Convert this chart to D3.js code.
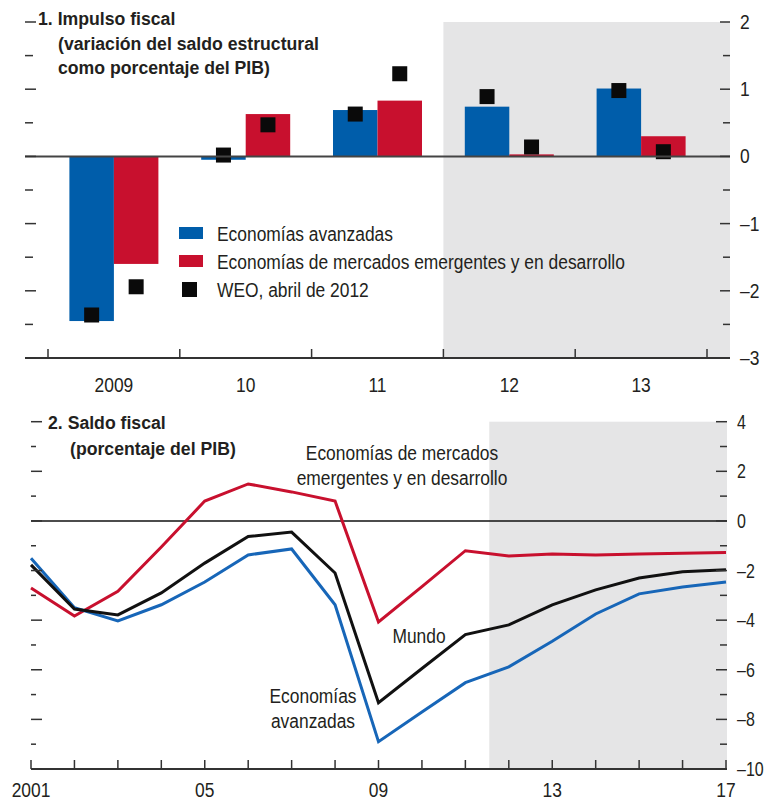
<!DOCTYPE html>
<html>
<head>
<meta charset="utf-8">
<script src="https://cdn.jsdelivr.net/npm/d3@7"></script>
<style>
  html, body { margin: 0; padding: 0; background: #fff; }
  svg { display: block; }
  text { font-family: "Liberation Sans", Arial, sans-serif; fill: #231f20; }
</style>
</head>
<body>
<svg id="chart" width="768" height="801"></svg>
<script>
// ---- Panel 1: fiscal impulse (change in structural balance, % of GDP)
const impulseYears = ["2009", "10", "11", "12", "13"];
const advancedImpulse = [-2.45, -0.05, 0.69, 0.74, 1.01];
const emergingImpulse = [-1.6, 0.63, 0.83, 0.03, 0.30];
const weoAdvanced = [-2.36, 0.02, 0.63, 0.89, 0.98];
const weoEmerging = [-1.94, 0.47, 1.23, 0.14, 0.07];
const impulseTicks = [2, 1, 0, -1, -2, -3];
const impulseTickLabels = ["2", "1", "0", "–1", "–2", "–3"];

// ---- Panel 2: fiscal balance (% of GDP)
const balanceYears = [2001, 2002, 2003, 2004, 2005, 2006, 2007, 2008, 2009,
                      2010, 2011, 2012, 2013, 2014, 2015, 2016, 2017];
const emergingBalance = [-2.7, -3.83, -2.84, -1.05, 0.8, 1.49, 1.17, 0.8, -4.07,
                         -2.65, -1.2, -1.41, -1.33, -1.37, -1.33, -1.3, -1.27];
const worldBalance = [-1.77, -3.55, -3.79, -2.9, -1.7, -0.63, -0.45, -2.1, -7.33,
                      -5.95, -4.58, -4.19, -3.38, -2.78, -2.3, -2.05, -1.97];
const advancedBalance = [-1.5, -3.5, -4.03, -3.38, -2.46, -1.37, -1.13, -3.38, -8.9,
                         -7.7, -6.52, -5.88, -4.85, -3.75, -2.94, -2.66, -2.46];
const balanceTicks = [4, 2, 0, -2, -4, -6, -8, -10];
const balanceTickLabels = ["4", "2", "0", "–2", "–4", "–6", "–8", "–10"];
const balanceYearLabels = {2001: "2001", 2005: "05", 2009: "09", 2013: "13", 2017: "17"};

const BLUE = "#005daa", RED = "#c8102e", BLACK = "#111", SHADE = "#e5e5e6", AXIS = "#333";

const svg = d3.select("#chart");

// condensed text: horizontal squeeze around the anchor point
const NARROW = 0.87, TITLE_NARROW = 0.93;
function label(g, x, y, str, opts = {}) {
  const sx = opts.sx || NARROW;
  return g.append("text")
    .attr("transform", `translate(${x},${y}) scale(${sx},1)`)
    .attr("text-anchor", opts.anchor || "start")
    .attr("font-size", opts.size || 20)
    .attr("font-weight", opts.bold ? "bold" : null)
    .text(str);
}

// ================= Panel 1 =================
{
  const left = 25, right = 730;
  const y = d3.scaleLinear().domain([-3, 2]).range([358, 22]);
  const x = d3.scaleBand().domain(impulseYears).range([48, 707]).padding(0);
  const barW = 44.5;
  const sub = d3.scaleBand().domain(["adv", "emg"]).range([-barW, barW]).padding(0);

  const g = svg.append("g");

  // projection period shading
  g.append("rect")
    .attr("x", x("12")).attr("y", y(2))
    .attr("width", right - x("12")).attr("height", y(-3) - y(2))
    .attr("fill", SHADE);

  const groups = g.selectAll("g.year").data(impulseYears).join("g")
    .attr("transform", d => `translate(${x(d) + x.bandwidth() / 2},0)`);

  const barData = (i) => [
    {k: "adv", v: advancedImpulse[i], c: BLUE},
    {k: "emg", v: emergingImpulse[i], c: RED}
  ];
  groups.each(function (d, i) {
    d3.select(this).selectAll("rect.bar").data(barData(i)).join("rect")
      .attr("x", b => sub(b.k))
      .attr("width", sub.bandwidth())
      .attr("y", b => y(Math.max(0, b.v)))
      .attr("height", b => Math.abs(y(b.v) - y(0)))
      .attr("fill", b => b.c);
  });

  // zero line
  g.append("line").attr("x1", left).attr("x2", right)
    .attr("y1", y(0)).attr("y2", y(0))
    .attr("stroke", "#444").attr("stroke-width", 2);

  // WEO April 2012 markers
  const sq = 15;
  groups.each(function (d, i) {
    const pts = [{k: "adv", v: weoAdvanced[i]}, {k: "emg", v: weoEmerging[i]}];
    d3.select(this).selectAll("rect.weo").data(pts).join("rect")
      .attr("class", "weo")
      .attr("x", p => sub(p.k) + sub.bandwidth() / 2 - sq / 2)
      .attr("y", p => y(p.v) - sq / 2)
      .attr("width", sq).attr("height", sq)
      .attr("fill", "#0a0a0a");
  });

  // bottom axis with boundary ticks
  g.append("line").attr("x1", left).attr("x2", right)
    .attr("y1", y(-3)).attr("y2", y(-3))
    .attr("stroke", AXIS).attr("stroke-width", 2);
  const bounds = impulseYears.map(d => x(d)).concat([x.range()[1]]);
  g.selectAll("line.bt").data(bounds).join("line")
    .attr("x1", d => d).attr("x2", d => d)
    .attr("y1", y(-3)).attr("y2", y(-3) - 9)
    .attr("stroke", AXIS).attr("stroke-width", 1.5);
  impulseYears.forEach(d => label(g, x(d) + x.bandwidth() / 2, 392, d, {anchor: "middle"}));

  // y ticks on both sides
  const halfTicks = d3.range(-3, 2.01, 0.5);
  g.selectAll("line.lt").data(halfTicks).join("line")
    .attr("x1", left).attr("x2", d => Number.isInteger(d) ? left + 11 : left + 8)
    .attr("y1", d => y(d)).attr("y2", d => y(d))
    .attr("stroke", AXIS).attr("stroke-width", 1.5);
  g.selectAll("line.rt").data(halfTicks).join("line")
    .attr("x1", d => Number.isInteger(d) ? right - 10 : right - 7).attr("x2", right)
    .attr("y1", d => y(d)).attr("y2", d => y(d))
    .attr("stroke", AXIS).attr("stroke-width", 1.5);
  impulseTicks.forEach((d, i) => label(g, 740, y(d) + 7, impulseTickLabels[i]));

  // title
  label(g, 38, 25, "1. Impulso fiscal", {bold: true, size: 19, sx: TITLE_NARROW});
  label(g, 58, 50, "(variación del saldo estructural", {bold: true, size: 19, sx: TITLE_NARROW});
  label(g, 58, 74, "como porcentaje del PIB)", {bold: true, size: 19, sx: TITLE_NARROW});

  // legend
  const legend = [
    {label: "Economías avanzadas", c: BLUE, kind: "bar"},
    {label: "Economías de mercados emergentes y en desarrollo", c: RED, kind: "bar"},
    {label: "WEO, abril de 2012", c: "#0a0a0a", kind: "sq"}
  ];
  legend.forEach((d, i) => {
    const cy = 233 + i * 28;
    g.append("rect")
      .attr("x", d.kind === "bar" ? 179 : 182)
      .attr("y", d.kind === "bar" ? cy - 6 : cy - 7)
      .attr("width", d.kind === "bar" ? 24 : 15)
      .attr("height", d.kind === "bar" ? 12 : 15)
      .attr("fill", d.c);
    label(g, 217, cy + 8, d.label);
  });
}

// ================= Panel 2 =================
{
  const left = 31, right = 727;
  const y = d3.scaleLinear().domain([-10, 4]).range([769, 421.7]);
  const x = d3.scaleLinear().domain([2001, 2017]).range([31, 726]);
  const g = svg.append("g");

  g.append("rect")
    .attr("x", x(2011.55)).attr("y", y(4))
    .attr("width", right - x(2011.55)).attr("height", y(-10) - y(4))
    .attr("fill", SHADE);

  g.append("line").attr("x1", left).attr("x2", right)
    .attr("y1", y(0)).attr("y2", y(0))
    .attr("stroke", "#111").attr("stroke-width", 1.5);

  const line = d3.line().x((d, i) => x(balanceYears[i])).y(d => y(d));
  [[emergingBalance, RED], [advancedBalance, "#1766b8"], [worldBalance, BLACK]].forEach(([vals, c]) => {
    g.append("path").datum(vals)
      .attr("d", line)
      .attr("fill", "none")
      .attr("stroke", c)
      .attr("stroke-width", 3)
      .attr("stroke-linejoin", "miter");
  });

  // axis
  g.append("line").attr("x1", left).attr("x2", right)
    .attr("y1", y(-10)).attr("y2", y(-10))
    .attr("stroke", AXIS).attr("stroke-width", 2);
  g.selectAll("line.bt").data(balanceYears).join("line")
    .attr("x1", d => x(d)).attr("x2", d => x(d))
    .attr("y1", y(-10)).attr("y2", y(-10) - 9)
    .attr("stroke", AXIS).attr("stroke-width", 1.5);
  Object.keys(balanceYearLabels).map(Number)
    .forEach(d => label(g, x(d), 797, balanceYearLabels[d], {anchor: "middle"}));

  const allTicks = d3.range(-10, 4.01, 1);
  g.selectAll("line.lt").data(allTicks).join("line")
    .attr("x1", left).attr("x2", d => d % 2 === 0 ? left + 11 : left + 5)
    .attr("y1", d => y(d)).attr("y2", d => y(d))
    .attr("stroke", AXIS).attr("stroke-width", 1.5);
  g.selectAll("line.rt").data(allTicks).join("line")
    .attr("x1", d => d % 2 === 0 ? right - 11 : right - 7).attr("x2", right)
    .attr("y1", d => y(d)).attr("y2", d => y(d))
    .attr("stroke", AXIS).attr("stroke-width", 1.5);
  balanceTicks.forEach((d, i) => label(g, 737, y(d) + 7, balanceTickLabels[i], {sx: 0.8}));

  label(g, 48, 429, "2. Saldo fiscal", {bold: true, size: 19, sx: TITLE_NARROW});
  label(g, 70, 455, "(porcentaje del PIB)", {bold: true, size: 19, sx: TITLE_NARROW});

  label(g, 402, 460, "Economías de mercados", {anchor: "middle"});
  label(g, 402, 485, "emergentes y en desarrollo", {anchor: "middle"});
  label(g, 419, 643, "Mundo", {anchor: "middle"});
  label(g, 313, 703, "Economías", {anchor: "middle"});
  label(g, 313, 728, "avanzadas", {anchor: "middle"});
}
</script>
</body>
</html>
